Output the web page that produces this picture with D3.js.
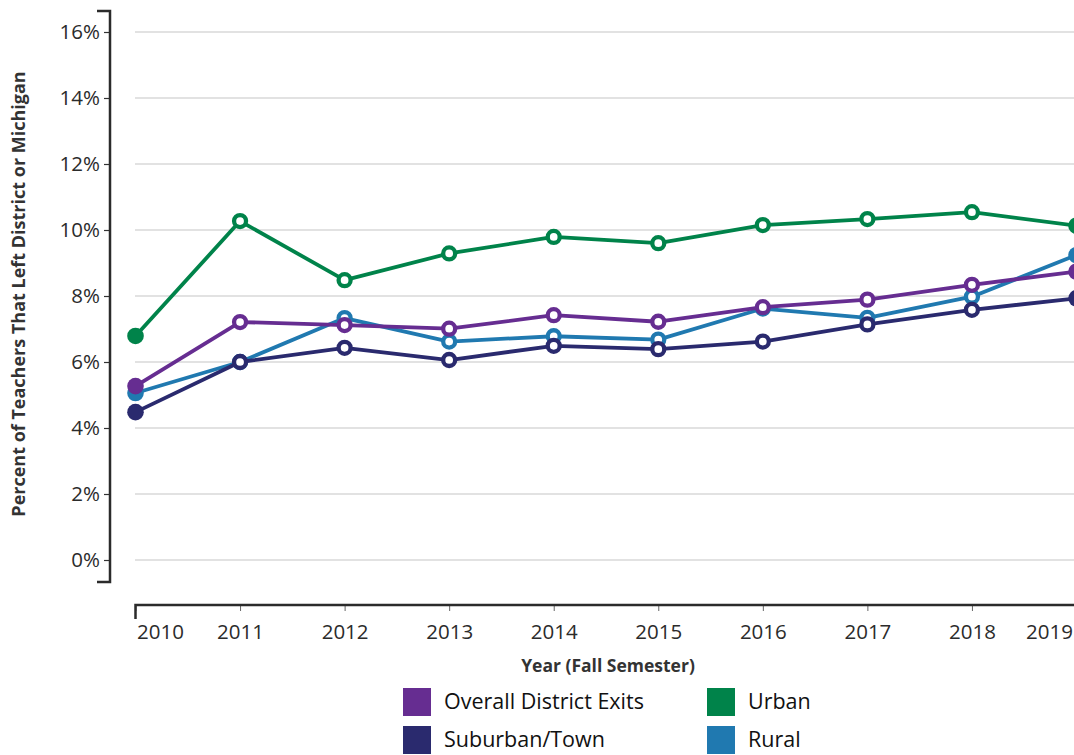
<!DOCTYPE html>
<html><head><meta charset="utf-8">
<script src="https://cdn.jsdelivr.net/npm/d3@7"></script>
<style>
html,body{margin:0;padding:0;background:#fff;}
svg{display:block;font-family:"Open Sans",sans-serif;}
</style></head>
<body><svg id="c" width="1074" height="755"></svg>
<script>
const years = [2010,2011,2012,2013,2014,2015,2016,2017,2018,2019];
const overall  = [5.27,7.21,7.12,7.01,7.42,7.22,7.66,7.89,8.34,8.74];
const suburban = [4.48,6.00,6.43,6.06,6.49,6.39,6.62,7.14,7.58,7.93];
const urban    = [6.79,10.27,8.48,9.29,9.79,9.60,10.15,10.33,10.54,10.13];
const rural    = [5.06,6.00,7.33,6.62,6.78,6.68,7.62,7.34,7.98,9.24];
const yTicks = [0,2,4,6,8,10,12,14,16];
const seriesNames = ["Overall District Exits","Suburban/Town","Urban","Rural"];
const colors = {"Overall District Exits":"#662d91","Suburban/Town":"#2a2a6e","Urban":"#00834a","Rural":"#2079b0"};

const svg = d3.select("#c");
const x = d3.scaleLinear().domain([2010,2019]).range([135.5,1076.5]);
const y = d3.scaleLinear().domain([0,16]).range([560,32]);

// gridlines
svg.append("g").selectAll("line").data(yTicks).join("line")
  .attr("x1",135).attr("x2",1074).attr("y1",d=>y(d)).attr("y2",d=>y(d))
  .attr("stroke","#d9d9d9").attr("stroke-width",1.5);

// y axis
const yAxis = svg.append("g").attr("transform","translate(110,0)")
  .call(d3.axisLeft(y).tickValues(yTicks).tickFormat(d=>d+"%").tickSize(6).tickPadding(4));
yAxis.select(".domain").remove();
yAxis.selectAll(".tick line").attr("stroke","#333").attr("stroke-width",1.2);
yAxis.selectAll(".tick text").attr("font-size",20.5).attr("fill","#2b2b2b")
  .attr("font-family","Open Sans").attr("dy","0.34em");
svg.append("path")
  .attr("d",`M97,${y(16.64)}H110V${y(-0.67)}H97`)
  .attr("fill","none").attr("stroke","#2b2b2b").attr("stroke-width",2.5);

// x axis
const xAxis = svg.append("g").attr("transform","translate(0,605)")
  .call(d3.axisBottom(x).tickValues(years).tickFormat(d=>String(d)).tickSize(6).tickPadding(13));
xAxis.select(".domain").remove();
xAxis.selectAll(".tick line").attr("stroke","#666").attr("stroke-width",1);
xAxis.selectAll(".tick text").attr("font-size",20.5).attr("fill","#2b2b2b").attr("font-family","Open Sans")
  .attr("text-anchor",d=>d===2010?"start":(d===2019?"end":"middle"));
xAxis.selectAll(".tick").filter(d=>d===2010).select("text").attr("dx",1);
xAxis.selectAll(".tick").filter(d=>d===2019).select("text").attr("dx",-4);
svg.append("path")
  .attr("d",`M${x(2010)},619V605H1074`)
  .attr("fill","none").attr("stroke","#2b2b2b").attr("stroke-width",2.5);

// axis titles
svg.append("text").attr("x",608).attr("y",672).attr("text-anchor","middle")
  .attr("font-size",17.5).attr("font-weight",700).attr("fill","#333")
  .text("Year (Fall Semester)");
svg.append("text").attr("transform","translate(25,294) rotate(-90)").attr("text-anchor","middle")
  .attr("font-size",18).attr("font-weight",700).attr("fill","#333")
  .text("Percent of Teachers That Left District or Michigan");

// series
const data = {"Overall District Exits":overall,"Suburban/Town":suburban,"Urban":urban,"Rural":rural};
const drawOrder = ["Rural","Overall District Exits","Suburban/Town","Urban"];
const line = d3.line().x((d,i)=>x(years[i])).y(d=>y(d));
drawOrder.forEach(name=>{
  const vals = data[name], col = colors[name];
  const g = svg.append("g");
  g.append("path").datum(vals).attr("d",line).attr("fill","none")
    .attr("stroke",col).attr("stroke-width",3.8).attr("stroke-linejoin","round");
  const ends = i=>(i===0||i===vals.length-1);
  g.selectAll("circle").data(vals).join("circle")
    .attr("cx",(d,i)=>x(years[i])).attr("cy",d=>y(d))
    .attr("r",(d,i)=>ends(i)?8.3:6)
    .attr("fill",(d,i)=>ends(i)?col:"#fff")
    .attr("stroke",col).attr("stroke-width",(d,i)=>ends(i)?0:4.3);
});

// legend
const legendItems = [
  {name:"Overall District Exits",col:0,row:0},
  {name:"Urban",col:1,row:0},
  {name:"Suburban/Town",col:0,row:1},
  {name:"Rural",col:1,row:1}
];
const lg = svg.append("g");
const li = lg.selectAll("g").data(legendItems).join("g")
  .attr("transform",d=>`translate(${d.col?707:403},${d.row?726:688})`);
li.append("rect").attr("width",28).attr("height",28).attr("fill",d=>colors[d.name]);
li.append("text").attr("x",41).attr("y",13).attr("dy","0.35em")
  .attr("font-size",21.5).attr("fill","#111").attr("font-family","Open Sans").text(d=>d.name);
</script></body></html>
